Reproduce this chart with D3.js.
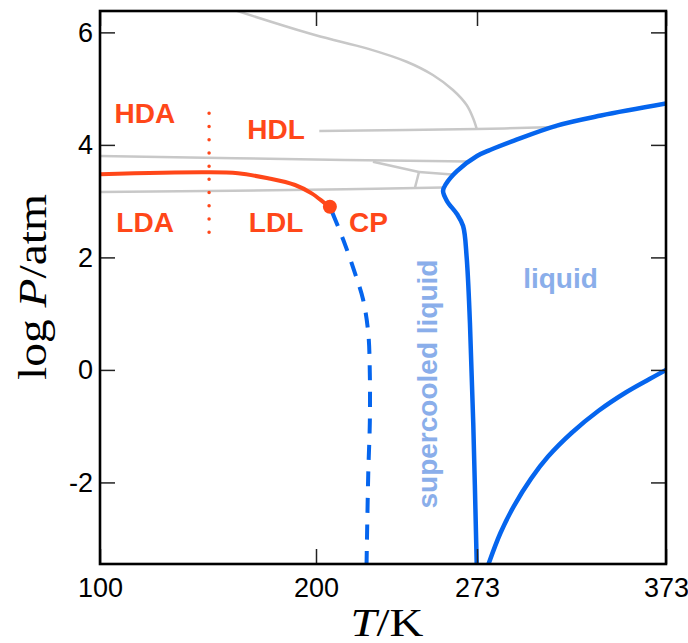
<!DOCTYPE html>
<html>
<head>
<meta charset="utf-8">
<script src="https://cdn.jsdelivr.net/npm/d3@7"></script>
<style>
  html, body { margin: 0; padding: 0; background: #fff; }
  svg { display: block; }
</style>
</head>
<body>
<svg id="chart" width="688" height="643"></svg>
<script>
// Phase diagram of water: temperature T (K) vs log10 of pressure (atm)

// axis ticks
const xTicks = [100, 200, 273, 373];
const yTicks = [-2, 0, 2, 4, 6];

// grey crystalline-ice phase boundaries, [T, logP]
const iceUpper = [[157.9, 6.45], [199.5, 5.953], [223.0, 5.716], [241.1, 5.478], [253.0, 5.242],
                  [262.1, 4.975], [268.3, 4.708], [271.2, 4.477], [272.9, 4.282]];
const iceHDL = [[201.5, 4.246], [272.9, 4.282], [315.3, 4.320]];
const iceUpperLong = [[100, 3.802], [213.1, 3.731], [269.8, 3.704]];
const iceDiagonal = [[225.8, 3.701], [246.7, 3.518]];
const iceMiddle = [[246.7, 3.518], [261.7, 3.473]];
const iceStub = [[246.7, 3.518], [244.9, 3.242]];
const iceLowerLong = [[100, 3.162], [213.1, 3.210], [257.6, 3.242]];

// liquid-liquid transition line ending at the critical point
const llLine = [[100, 3.477], [148.6, 3.512], [163.9, 3.494], [177.8, 3.406], [190.3, 3.287],
                [198.0, 3.139], [204.1, 2.961], [206.3, 2.901]];
const criticalPoint = [206.3, 2.901];

// glass transition HDA/LDA (dotted)
const glassT = 150.5;
const glassRange = [2.446, 4.561];

// Widom line continuing from the critical point (dashed)
const widom = [[206.3, 2.901], [212.4, 2.309], [217.7, 1.717], [221.4, 1.242], [223.7, 0.656],
               [224.4, -0.055], [224.4, -0.944], [223.7, -1.833], [222.9, -3.5]];

// melting line of ice
const melting = [[373, 4.735], [338.6, 4.522], [315.3, 4.344], [292.6, 4.077], [279.9, 3.909],
                 [273.0, 3.802], [263.9, 3.535], [258.9, 3.304], [257.6, 3.180], [259.4, 3.002],
                 [263.9, 2.771], [266.7, 2.558], [268.3, 2.007], [269.8, 0.834], [271.3, -0.944],
                 [272.9, -3.5]];

// liquid-vapour coexistence line
const boiling = [[279.1, -3.45], [285.4, -2.899], [292.6, -2.416], [301.6, -1.932], [310.6, -1.541],
                 [323.0, -1.122], [337.3, -0.727], [351.7, -0.402], [364.3, -0.162], [373, 0]];

// region labels: [text, T, logP]
const phaseLabels = [["HDA", 120.8, 4.389], ["HDL", 181.5, 4.099], ["LDA", 120.9, 2.456],
                     ["LDL", 181.5, 2.456], ["CP", 223.8, 2.456]];
const liquidLabel = ["liquid", 317.2, 1.456];
const supercooledLabel = ["supercooled liquid", 254.9, -0.251];

const svg = d3.select("#chart");
const frame = { left: 100, right: 666, top: 11, bottom: 564 };

const x = d3.scaleLinear().domain(xTicks).range([frame.left, 316, 477, frame.right]);
const y = d3.scaleLinear().domain([-3.45, 6.38]).range([frame.bottom, frame.top]);

const RED = "#ff4719", BLUE = "#0565ee", LIGHTBLUE = "#8aaeea", GREY = "#c8c8c8";

svg.append("defs").append("clipPath").attr("id", "plotClip")
  .append("rect").attr("x", frame.left).attr("y", frame.top)
  .attr("width", frame.right - frame.left).attr("height", frame.bottom - frame.top);

const plot = svg.append("g").attr("clip-path", "url(#plotClip)");
const line = d3.line().x(d => x(d[0])).y(d => y(d[1])).curve(d3.curveCatmullRom.alpha(0.5));

[iceUpper, iceHDL, iceUpperLong, iceDiagonal, iceMiddle, iceStub, iceLowerLong].forEach(seg => {
  plot.append("path").attr("d", line(seg)).attr("fill", "none")
    .attr("stroke", GREY).attr("stroke-width", 2.5);
});

plot.append("path").attr("d", line(llLine)).attr("fill", "none")
  .attr("stroke", RED).attr("stroke-width", 4);

plot.append("line")
  .attr("x1", x(glassT)).attr("x2", x(glassT))
  .attr("y1", y(glassRange[1])).attr("y2", y(glassRange[0]))
  .attr("stroke", RED).attr("stroke-width", 3.5)
  .attr("stroke-linecap", "round").attr("stroke-dasharray", "0 13.2");

plot.append("path").attr("d", line(widom)).attr("fill", "none")
  .attr("stroke", BLUE).attr("stroke-width", 4).attr("stroke-dasharray", "15 11.5")
  .attr("stroke-dashoffset", -6);

plot.append("path").attr("d", line(melting)).attr("fill", "none")
  .attr("stroke", BLUE).attr("stroke-width", 4.5);
plot.append("path").attr("d", line(boiling)).attr("fill", "none")
  .attr("stroke", BLUE).attr("stroke-width", 4.5);

plot.append("circle").attr("cx", x(criticalPoint[0])).attr("cy", y(criticalPoint[1]))
  .attr("r", 7).attr("fill", RED);

// labels
svg.selectAll("text.phase").data(phaseLabels).enter().append("text")
  .attr("class", "phase")
  .attr("x", d => x(d[1])).attr("y", d => y(d[2]))
  .attr("text-anchor", "middle")
  .attr("font-family", "'Liberation Sans', Arial, sans-serif")
  .attr("font-weight", "bold").attr("font-size", 28).attr("fill", RED)
  .text(d => d[0]);

svg.append("text")
  .attr("x", x(liquidLabel[1])).attr("y", y(liquidLabel[2]))
  .attr("text-anchor", "middle")
  .attr("font-family", "'Liberation Sans', Arial, sans-serif")
  .attr("font-weight", "bold").attr("font-size", 28).attr("fill", LIGHTBLUE)
  .text(liquidLabel[0]);

svg.append("text")
  .attr("transform", `translate(${x(supercooledLabel[1])},${y(supercooledLabel[2])}) rotate(-90)`)
  .attr("text-anchor", "middle")
  .attr("font-family", "'Liberation Sans', Arial, sans-serif")
  .attr("font-weight", "bold").attr("font-size", 28).attr("fill", LIGHTBLUE)
  .text(supercooledLabel[0]);

// axes: inward ticks on all four sides, frame drawn on top
const tickLen = 15;
const axisStyle = g => {
  g.select(".domain").remove();
  g.selectAll(".tick line").attr("stroke", "#222").attr("stroke-width", 1.5);
  g.selectAll(".tick text").attr("font-family", "'Liberation Sans', Arial, sans-serif")
    .attr("font-size", 27).attr("fill", "#000");
};
const plainFormat = d => String(d);

svg.append("g").attr("transform", `translate(0,${frame.bottom})`)
  .call(d3.axisBottom(x).tickValues(xTicks).tickSizeInner(-tickLen).tickSizeOuter(0)
    .tickFormat(plainFormat))
  .call(axisStyle)
  .call(g => g.selectAll(".tick text").attr("dy", "0.71em").attr("y", 14));

svg.append("g").attr("transform", `translate(0,${frame.top})`)
  .call(d3.axisTop(x).tickValues(xTicks).tickSizeInner(-tickLen).tickSizeOuter(0).tickFormat(""))
  .call(axisStyle);

svg.append("g").attr("transform", `translate(${frame.left},0)`)
  .call(d3.axisLeft(y).tickValues(yTicks).tickSizeInner(-tickLen).tickSizeOuter(0).tickFormat(plainFormat))
  .call(axisStyle)
  .call(g => g.selectAll(".tick text").attr("x", -7));

svg.append("g").attr("transform", `translate(${frame.right},0)`)
  .call(d3.axisRight(y).tickValues(yTicks).tickSizeInner(-tickLen).tickSizeOuter(0).tickFormat(""))
  .call(axisStyle);

svg.append("rect").attr("x", frame.left).attr("y", frame.top)
  .attr("width", frame.right - frame.left).attr("height", frame.bottom - frame.top)
  .attr("fill", "none").attr("stroke", "#000").attr("stroke-width", 2.6);

// axis titles (serif, slightly widened glyphs)
const serif = "'Liberation Serif', 'Times New Roman', serif";
const xTitle = svg.append("text").attr("x", 387).attr("y", 636)
  .attr("text-anchor", "middle").attr("font-family", serif).attr("font-size", 39)
  .attr("textLength", 73).attr("lengthAdjust", "spacingAndGlyphs");
xTitle.append("tspan").attr("font-style", "italic").text("T");
xTitle.append("tspan").text("/K");

const yTitle = svg.append("text").attr("transform", "translate(46,287) rotate(-90)")
  .attr("text-anchor", "middle").attr("font-family", serif).attr("font-size", 39)
  .attr("textLength", 186).attr("lengthAdjust", "spacingAndGlyphs");
yTitle.append("tspan").text("log ");
yTitle.append("tspan").attr("font-style", "italic").text("P");
yTitle.append("tspan").text("/atm");
</script>
</body>
</html>
